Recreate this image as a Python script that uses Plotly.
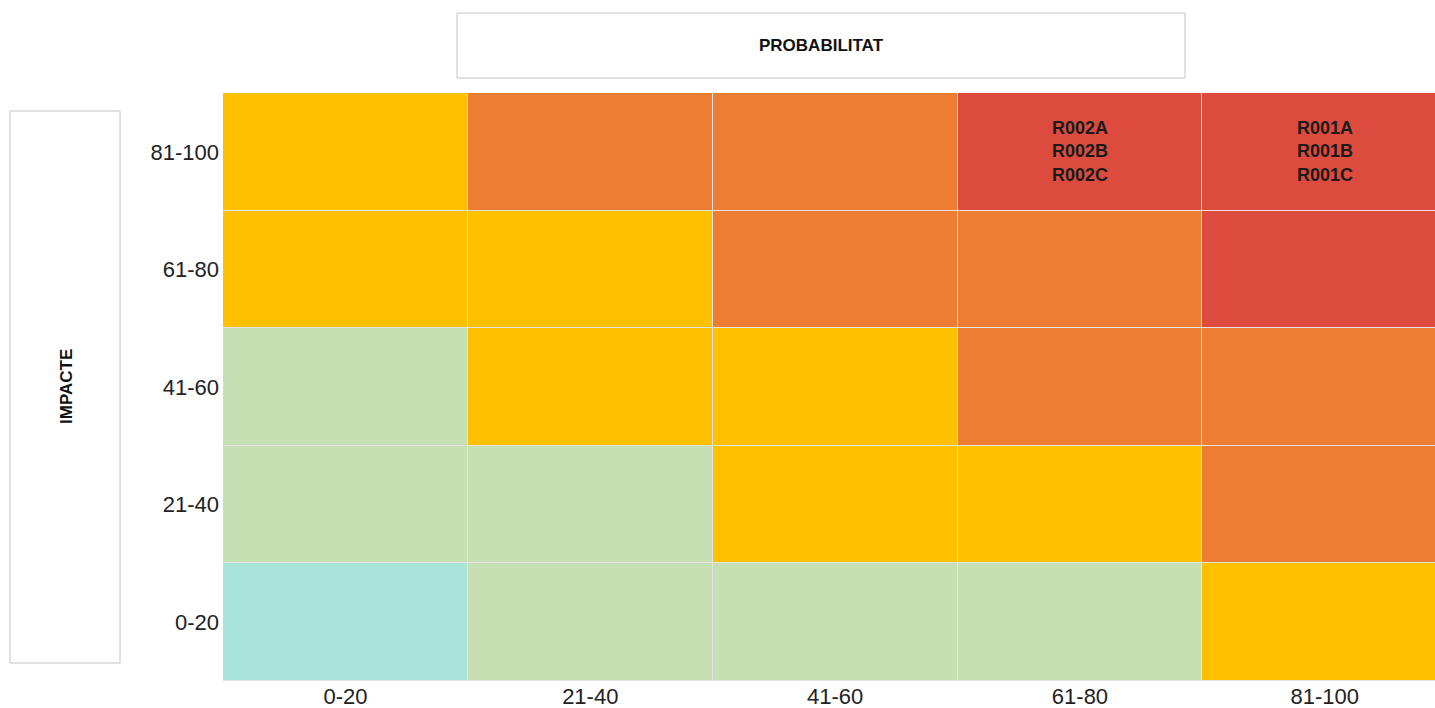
import plotly.graph_objects as go

# Data
probabilitat = ["0-20", "21-40", "41-60", "61-80", "81-100"]
impacte = ["0-20", "21-40", "41-60", "61-80", "81-100"]
# risk level per cell (rows = impacte from low to high, columns = probabilitat)
# 0 = very low, 1 = low, 2 = medium, 3 = high, 4 = very high
nivell = [
    [0, 1, 1, 1, 2],
    [1, 1, 2, 2, 3],
    [1, 2, 2, 3, 3],
    [2, 2, 3, 3, 4],
    [2, 3, 3, 4, 4],
]
riscos = {
    ("61-80", "81-100"): ["R002A", "R002B", "R002C"],
    ("81-100", "81-100"): ["R001A", "R001B", "R001C"],
}
level_colors = ["#A8E4D8", "#C6E0B4", "#FFC000", "#ED7D31", "#DD4B3E"]

colorscale = []
n = len(level_colors)
for i, c in enumerate(level_colors):
    colorscale.append([i / n, c])
    colorscale.append([(i + 1) / n, c])

fig = go.Figure(
    go.Heatmap(
        x=probabilitat,
        y=impacte,
        z=nivell,
        zmin=-0.5,
        zmax=4.5,
        colorscale=colorscale,
        showscale=False,
        xgap=1,
        ygap=1,
        hoverinfo="skip",
    )
)

for (px, iy), labels in riscos.items():
    fig.add_annotation(
        x=px, y=iy, xref="x", yref="y",
        text="<b>" + "<br>".join(labels) + "</b>",
        showarrow=False,
        font=dict(family="Liberation Sans, Arial, sans-serif", size=18, color="#1a1a1a"),
        xanchor="center", yanchor="middle",
    )

# Page geometry (body margin removed below)
W, H = 1435, 708
L, T, B = 223, 93, 27
pw, ph = W - L, H - T - B


def px_x(p):
    return (p - L) / pw


def px_y(p):
    return (H - B - p) / ph


fig.add_shape(type="rect", xref="paper", yref="paper",
              x0=px_x(457), x1=px_x(1185), y0=px_y(78), y1=px_y(13),
              line=dict(color="#c4c4c4", width=1), fillcolor="white")
fig.add_annotation(xref="paper", yref="paper", x=px_x(821), y=px_y(46),
                   xanchor="center", yanchor="middle",
                   text="<b>PROBABILITAT</b>", showarrow=False,
                   font=dict(family="Liberation Sans Narrow, Arial Narrow, Liberation Sans, sans-serif",
                             size=17, color="#111"))
fig.add_shape(type="rect", xref="paper", yref="paper",
              x0=px_x(10), x1=px_x(120), y0=px_y(663), y1=px_y(111),
              line=dict(color="#c4c4c4", width=1), fillcolor="white")
fig.add_annotation(xref="paper", yref="paper", x=px_x(66), y=px_y(386),
                   xanchor="center", yanchor="middle",
                   text="<b>IMPACTE</b>", showarrow=False, textangle=-90,
                   font=dict(family="Liberation Sans Narrow, Arial Narrow, Liberation Sans, sans-serif",
                             size=17, color="#111"))

fig.update_layout(
    width=W,
    height=H,
    margin=dict(l=L, r=0, t=T, b=B),
    paper_bgcolor="white",
    plot_bgcolor="#e4e4e4",
    font=dict(family="Liberation Sans, Arial, sans-serif", size=22, color="#222"),
    xaxis=dict(range=[-0.5, 4.45], showgrid=False, zeroline=False, ticks="",
               tickfont=dict(size=22, color="#222"), fixedrange=True),
    yaxis=dict(range=[-0.5, 4.5], showgrid=False, zeroline=False, ticks="",
               tickfont=dict(size=22, color="#222"), ticklabelstandoff=3, fixedrange=True),
)

fig.write_html(
    "out.html",
    config={"displayModeBar": False},
    post_script="document.body.style.margin='0';document.body.style.overflow='hidden';",
)
